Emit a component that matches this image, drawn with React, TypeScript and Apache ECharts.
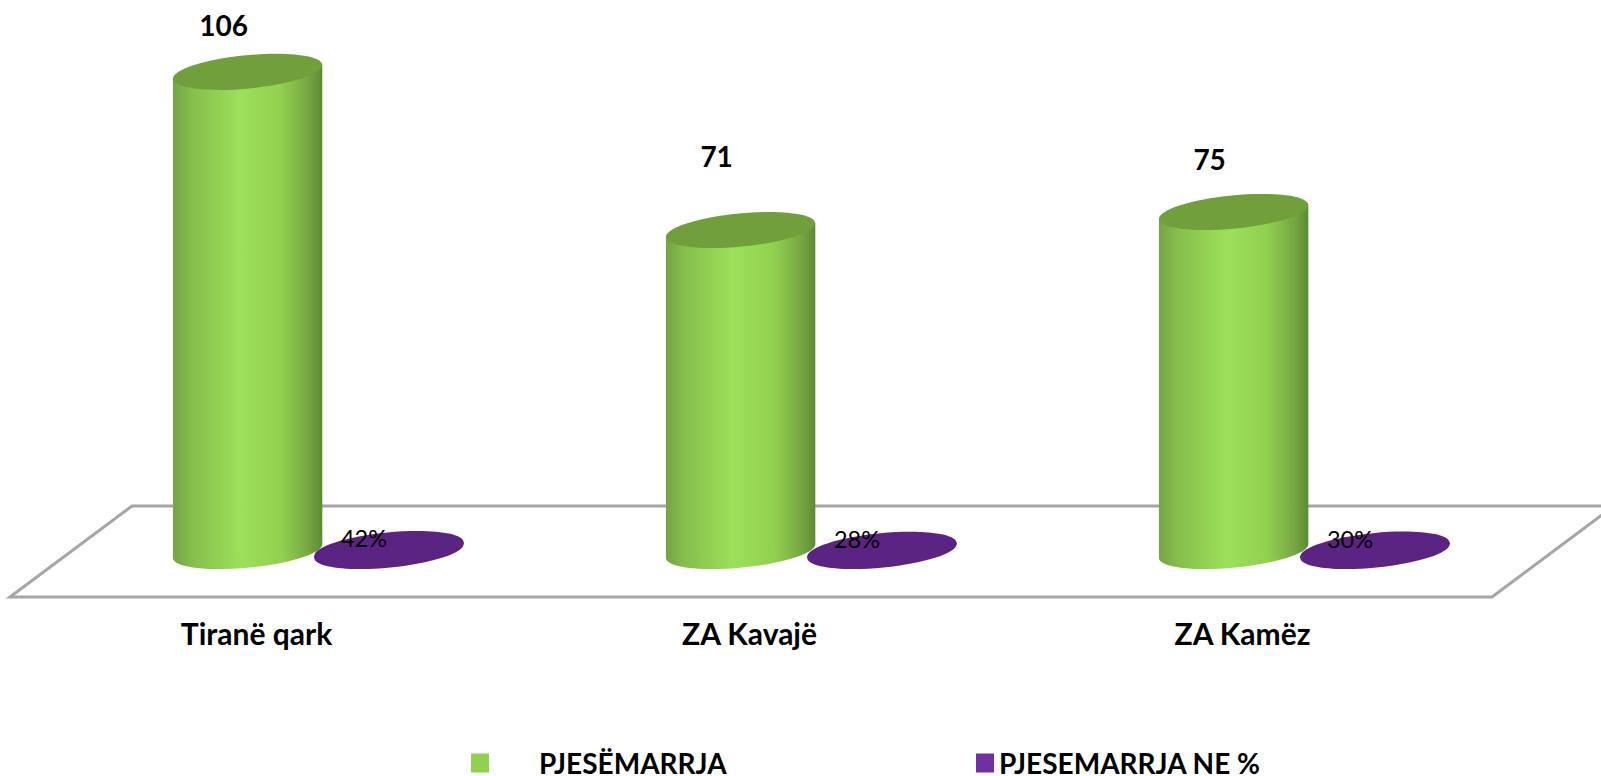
import React, { useEffect, useRef } from "react";
import * as echarts from "echarts";

const categories = ["Tiranë qark", "ZA Kavajë", "ZA Kamëz"];
const participation = [106, 71, 75];
const participationPct = [0.42, 0.28, 0.3];
const seriesNames = ["PJESËMARRJA", "PJESEMARRJA NE %"];
const FONT = "Lato, 'Open Sans', sans-serif";

// hand-placed label lifts in the reference (px above the cylinder top)
const valueLabelLift = [47, 74, 53];

const TILT = 5.5;
const RY = 16.6;

function cylinder(api: any, opts: any) {
  const i = api.value(0);
  const v = api.value(1);
  const band = api.size([1, 0])[0];
  const base = api.coord([i, 0]);
  const top = api.coord([i, v]);
  const cx = base[0] + band * opts.offset;
  const halfW = band * 0.1515;
  const rad = (TILT * Math.PI) / 180;
  const sin = Math.sin(rad);
  const cos = Math.cos(rad);
  const rx = Math.sqrt((halfW * halfW - RY * RY * sin * sin) / (cos * cos));
  const skew = ((rx * rx - RY * RY) * sin * cos) / halfW;
  const yb = base[1];
  const yt = top[1];
  const fill = () => new echarts.graphic.LinearGradient(0, 0, 1, 0, opts.stops);
  const children: any[] = [
    {
      type: "ellipse",
      shape: { cx: 0, cy: 0, rx, ry: RY },
      x: cx,
      y: yb,
      rotation: rad,
      style: { fill: fill() },
    },
    {
      type: "polygon",
      shape: {
        points: [
          [cx - halfW, yt + skew],
          [cx - halfW, yb + skew],
          [cx + halfW, yb - skew],
          [cx + halfW, yt - skew],
        ],
      },
      style: { fill: fill() },
    },
    {
      type: "ellipse",
      shape: { cx: 0, cy: 0, rx, ry: RY },
      x: cx,
      y: yt,
      rotation: rad,
      style: { fill: opts.topFill },
    },
    opts.label(i, v, cx, yt),
  ];
  return { type: "group", children };
}

const option: any = {
  animation: false,
  backgroundColor: "#ffffff",
  grid: { left: 10, right: 112, top: 8.6, bottom: 225 },
  xAxis: {
    type: "category",
    data: categories,
    axisLine: { show: false },
    axisTick: { show: false },
    axisLabel: {
      margin: 67,
      fontFamily: FONT,
      fontWeight: "bold",
      fontSize: 30,
      color: "#000000",
    },
  },
  yAxis: { type: "value", min: 0, max: 120, show: false },
  legend: [
    {
      data: [seriesNames[0]],
      left: 471,
      top: 749,
      icon: "rect",
      itemWidth: 18,
      itemHeight: 19,
      itemGap: 0,
      padding: 0,
      textStyle: {
        fontFamily: FONT,
        fontWeight: "bold",
        fontSize: 28,
        lineHeight: 21,
        color: "#000000",
        padding: [0, 0, 0, 45],
      },
    },
    {
      data: [seriesNames[1]],
      left: 976,
      top: 749,
      icon: "rect",
      itemWidth: 18,
      itemHeight: 19,
      padding: 0,
      textStyle: {
        fontFamily: FONT,
        fontWeight: "bold",
        fontSize: 28,
        lineHeight: 21,
        color: "#000000",
      },
    },
  ],
  graphic: [
    {
      type: "polygon",
      z: 0,
      shape: {
        points: [
          [10, 597],
          [132, 506],
          [1614, 506],
          [1492, 597],
        ],
      },
      style: { fill: "#ffffff", stroke: "#a6a6a6", lineWidth: 3 },
    },
  ],
  series: [
    {
      name: seriesNames[0],
      type: "custom",
      z: 3,
      itemStyle: { color: "#92d050" },
      encode: { x: 0, y: 1 },
      data: participation.map((v, i) => [i, v]),
      renderItem: (_: any, api: any) =>
        cylinder(api, {
          offset: -0.018,
          stops: [
            { offset: 0, color: "#76a347" },
            { offset: 0.12, color: "#86bd4c" },
            { offset: 0.45, color: "#9ce05a" },
            { offset: 0.72, color: "#92d050" },
            { offset: 0.9, color: "#77a843" },
            { offset: 1, color: "#5c8a35" },
          ],
          topFill: "#719f3c",
          label: (i: number, v: number, cx: number, yt: number) => ({
            type: "text",
            style: {
              text: String(v),
              x: cx - 24,
              y: yt - valueLabelLift[i],
              align: "center",
              verticalAlign: "middle",
              fontFamily: FONT,
              fontWeight: "bold",
              fontSize: 28,
              fill: "#000000",
            },
          }),
        }),
    },
    {
      name: seriesNames[1],
      type: "custom",
      z: 4,
      itemStyle: { color: "#7030a0" },
      encode: { x: 0, y: 1 },
      data: participationPct.map((v, i) => [i, v]),
      renderItem: (_: any, api: any) =>
        cylinder(api, {
          offset: 0.2687,
          stops: [
            { offset: 0, color: "#5a2480" },
            { offset: 1, color: "#5a2480" },
          ],
          topFill: "#5b2382",
          label: (_i: number, v: number, cx: number, yt: number) => ({
            type: "text",
            style: {
              text: `${Math.round(v * 100)}%`,
              x: cx - 25,
              y: yt - 11,
              align: "center",
              verticalAlign: "middle",
              fontFamily: FONT,
              fontSize: 23.5,
              fill: "#000000",
            },
          }),
        }),
    },
  ],
};

export default function App() {
  const ref = useRef<HTMLDivElement>(null);
  useEffect(() => {
    const chart = echarts.init(ref.current, undefined, { renderer: "svg" });
    chart.setOption(option);
    return () => chart.dispose();
  }, []);
  return (
    <div
      ref={ref}
      style={{ position: "absolute", left: 0, top: 0, width: 1601, height: 776 }}
    />
  );
}
